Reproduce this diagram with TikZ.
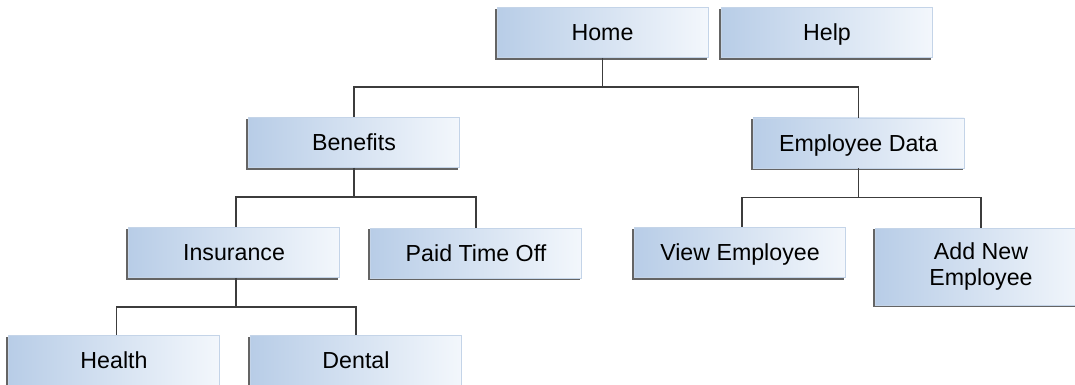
\documentclass[tikz,border=0pt]{standalone}
\usepackage{fontspec}
\setmainfont{Liberation Sans}
\definecolor{boxleft}{RGB}{184,205,231}
\definecolor{boxright}{RGB}{243,247,252}
\definecolor{boxedge}{RGB}{196,212,232}
\definecolor{shadowc}{RGB}{100,100,100}
\definecolor{linec}{RGB}{60,60,60}
\tikzset{
  x=0.75pt, y=-0.75pt,
  boxbase/.style={rectangle, left color=boxleft, right color=boxright,
    draw=boxedge, line width=0.6pt,
    minimum width=211*0.75pt,
    inner sep=0pt, align=center,
    font=\fontsize{17.4pt}{20pt}\selectfont,
    preaction={draw=shadowc, fill=shadowc, line width=0.6pt,
      transform canvas={shift={(-1.3pt,-1.3pt)}}}},
  pagebox/.style={boxbase, minimum height=50*0.75pt, text height=12.6pt, text depth=0.4pt},
  tallbox/.style={boxbase, minimum height=77*0.75pt},
  conn/.style={draw=linec, line width=1pt}
}
\begin{document}
\begin{tikzpicture}
\useasboundingbox (0,0) rectangle (1075,385);
\clip (0,0) rectangle (1075,385);
% nodes
\node[pagebox] (home) at (602.5,32.5) {Home};
\node[pagebox] (help) at (827,32.5) {Help};
\node[pagebox] (benefits) at (354,142.5) {Benefits};
\node[pagebox] (empdata) at (858.5,143) {Employee Data};
\node[pagebox] (insurance) at (234,252.5) {Insurance};
\node[pagebox] (pto) at (476,253) {Paid Time Off};
\node[pagebox] (viewemp) at (740,252.5) {View Employee};
\node[tallbox] (addemp) at (981,266.5) {Add New\\Employee};
\node[pagebox] (health) at (114,360.5) {Health};
\node[pagebox] (dental) at (356,360.5) {Dental};
% connectors
\draw[conn] (home.south) -- +(0,29) coordinate (hbar) -| (benefits.north);
\draw[conn] (hbar) -| (empdata.north);
\draw[conn] (benefits.south) -- +(0,29) coordinate (bbar) -| ([xshift=1.5pt]insurance.north);
\draw[conn] (bbar) -| (pto.north);
\draw[conn] ([xshift=1.5pt]insurance.south) -- +(0,29) coordinate (ibar) -| ([xshift=2pt]health.north);
\draw[conn] (ibar) -| (dental.north);
\draw[conn] (empdata.south) -- +(0,29) coordinate (ebar) -| ([xshift=1.5pt]viewemp.north);
\draw[conn] (ebar) -| (addemp.north);
\end{tikzpicture}
\end{document}
